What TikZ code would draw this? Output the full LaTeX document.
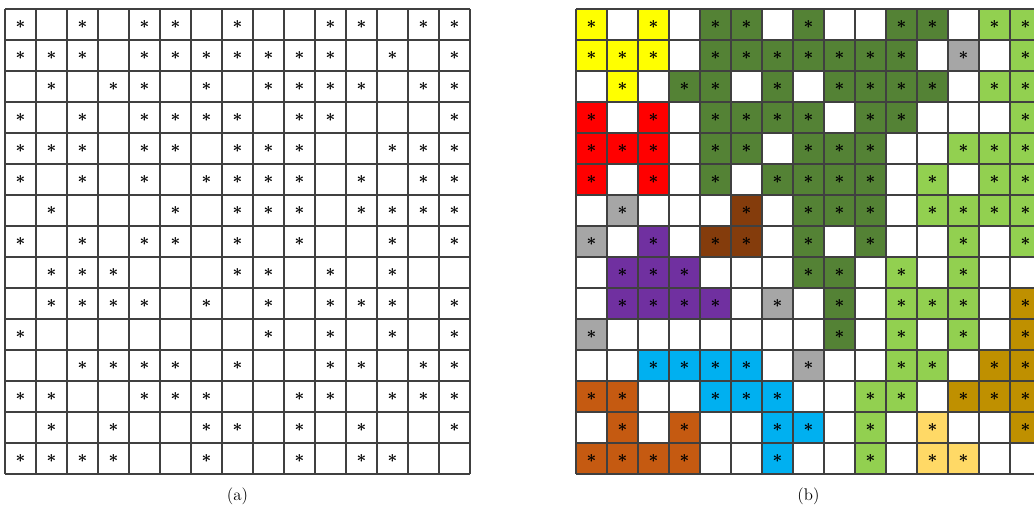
\documentclass[tikz,border=0pt]{standalone}
\definecolor{cyel}{HTML}{FFFF00}
\definecolor{cred}{HTML}{FF0000}
\definecolor{cdkg}{HTML}{548235}
\definecolor{cltg}{HTML}{92D050}
\definecolor{cgry}{HTML}{A6A6A6}
\definecolor{cbrn}{HTML}{843C0C}
\definecolor{cpur}{HTML}{7030A0}
\definecolor{ccyn}{HTML}{00B0F0}
\definecolor{corg}{HTML}{C55A11}
\definecolor{cgld}{HTML}{BF9000}
\definecolor{clgd}{HTML}{FFD966}
% row / {column/cluster colour} of every marked cell
\def\clusters{1/{1/cyel,3/cyel,5/cdkg,6/cdkg,8/cdkg,11/cdkg,12/cdkg,14/cltg,15/cltg},
2/{1/cyel,2/cyel,3/cyel,5/cdkg,6/cdkg,7/cdkg,8/cdkg,9/cdkg,10/cdkg,11/cdkg,13/cgry,15/cltg},
3/{2/cyel,4/cdkg,5/cdkg,7/cdkg,9/cdkg,10/cdkg,11/cdkg,12/cdkg,14/cltg,15/cltg},
4/{1/cred,3/cred,5/cdkg,6/cdkg,7/cdkg,8/cdkg,10/cdkg,11/cdkg,15/cltg},
5/{1/cred,2/cred,3/cred,5/cdkg,6/cdkg,8/cdkg,9/cdkg,10/cdkg,13/cltg,14/cltg,15/cltg},
6/{1/cred,3/cred,5/cdkg,7/cdkg,8/cdkg,9/cdkg,10/cdkg,12/cltg,14/cltg,15/cltg},
7/{2/cgry,6/cbrn,8/cdkg,9/cdkg,10/cdkg,12/cltg,13/cltg,14/cltg,15/cltg},
8/{1/cgry,3/cpur,5/cbrn,6/cbrn,8/cdkg,10/cdkg,13/cltg,15/cltg},
9/{2/cpur,3/cpur,4/cpur,8/cdkg,9/cdkg,11/cltg,13/cltg},
10/{2/cpur,3/cpur,4/cpur,5/cpur,7/cgry,9/cdkg,11/cltg,12/cltg,13/cltg,15/cgld},
11/{1/cgry,9/cdkg,11/cltg,13/cltg,15/cgld},
12/{3/ccyn,4/ccyn,5/ccyn,6/ccyn,8/cgry,11/cltg,12/cltg,14/cgld,15/cgld},
13/{1/corg,2/corg,5/ccyn,6/ccyn,7/ccyn,10/cltg,11/cltg,13/cgld,14/cgld,15/cgld},
14/{2/corg,4/corg,7/ccyn,8/ccyn,10/cltg,12/clgd,15/cgld},
15/{1/corg,2/corg,3/corg,4/corg,7/ccyn,10/cltg,12/clgd,13/clgd}}
\tikzset{
  cellgrid/.style={draw=black!75, line width=0.8pt},
  asterisk/.style={inner sep=0pt, font=\large\boldmath},
  caption/.style={font=\large}
}
\begin{document}
\begin{tikzpicture}[x=0.025cm, y=-0.025cm]
\useasboundingbox (0,0) rectangle (1034,516);
\clip (0,0) rectangle (1034,516);
% cluster colours of (b)
\foreach \r/\cells in \clusters {\foreach \c/\col in \cells {\fill[\col] ({576+(\c-1)*31},{9+(\r-1)*31}) rectangle ++(31,31);}}
% both grids
\foreach \ox in {5,576} {\foreach \i in {0,...,15} {\draw[cellgrid] ({\ox+\i*31},9) -- ++(0,465); \draw[cellgrid] (\ox,{9+\i*31}) -- ++(465,0);}}
% marks
\foreach \r/\cells in \clusters {\foreach \c/\col in \cells {
  \node[asterisk] (a-\r-\c) at ({5+(\c-0.5)*31},{9+(\r-0.5)*31}) {$\ast$};
  \node[asterisk] (b-\r-\c) at ({576+(\c-0.5)*31},{9+(\r-0.5)*31}) {$\ast$};}}
\node[caption] (capa) at (237.5,496) {(a)};
\node[caption] (capb) at (808.5,496) {(b)};
\end{tikzpicture}
\end{document}
